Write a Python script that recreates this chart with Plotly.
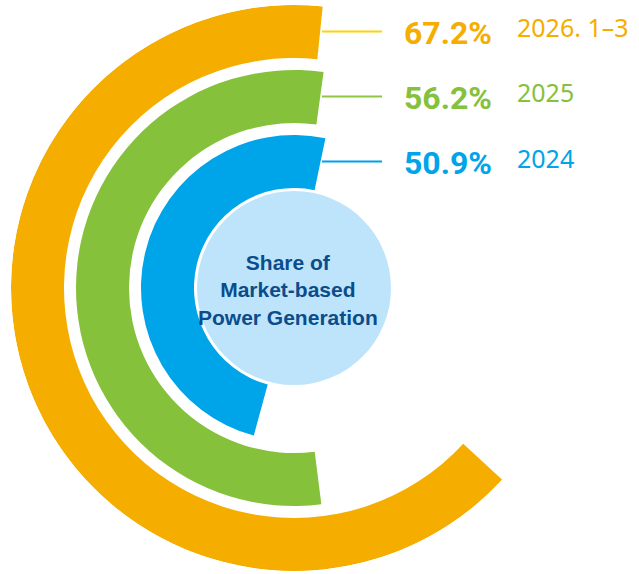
import math
import plotly.graph_objects as go

# ---- data ----
years = ["2026. 1–3", "2025", "2024"]
shares = [67.2, 56.2, 50.9]
center_title = "Share of<br>Market-based<br>Power Generation"

# ---- style ----
bar_colors = ["#F5AD00", "#86C13B", "#00A4E9"]
line_colors = ["#FFD400", "#8DC63F", "#00A0E9"]
ring_base = [230, 165, 100]   # inner radius of each ring (px)
ring_thick = 53
DEG_PER_PCT = 3.47            # angular scale of the decorative rings

W, H = 639, 574
CX, CY, R = 294, 288, 283     # polar centre / outer radius in pixels
EDGE_X = 320                  # rings start on this vertical line

fig = go.Figure()

# light blue centre disc
fig.add_trace(go.Barpolar(
    r=[97], theta=[180], width=[360], base=[0],
    marker=dict(color="#BEE4FB", line=dict(width=0)),
    hoverinfo="skip", showlegend=False,
))

for name, val, col, base in zip(years, shares, bar_colors, ring_base):
    rmid = base + ring_thick / 2
    start = -math.degrees(math.asin((EDGE_X - CX) / rmid))
    span = val * DEG_PER_PCT
    fig.add_trace(go.Barpolar(
        r=[ring_thick], base=[base], theta=[start + span / 2], width=[span],
        marker=dict(color=col, line=dict(width=0)),
        name=name, showlegend=False, hovertemplate=f"{name}: {val}%<extra></extra>",
    ))

# leader lines and labels
for name, val, col, lcol, base in zip(years, shares, bar_colors, line_colors, ring_base):
    ypx = CY - (base + ring_thick / 2)
    yp = 1 - ypx / H
    fig.add_shape(type="line", xref="paper", yref="paper",
                  x0=322 / W, x1=382 / W, y0=yp, y1=yp,
                  line=dict(color=lcol, width=2))
    fig.add_annotation(xref="paper", yref="paper", x=402 / W, y=1 - (ypx + 1) / H,
                       text=f"<b>{val}%</b>", showarrow=False,
                       xanchor="left", yanchor="middle",
                       font=dict(family="Roboto", size=32, color=col))
    fig.add_annotation(xref="paper", yref="paper", x=515 / W, y=1 - (ypx - 4) / H,
                       text=name, showarrow=False,
                       xanchor="left", yanchor="middle",
                       font=dict(family="Noto Sans", size=25, color=col))

fig.add_annotation(xref="paper", yref="paper", x=288 / W, y=1 - 290 / H,
                   text=f"<b>{center_title}</b>", showarrow=False,
                   xanchor="center", yanchor="middle",
                   font=dict(family="Liberation Sans", size=21, color="#0B4C8C"))

fig.update_layout(
    width=W, height=H,
    margin=dict(l=0, r=0, t=0, b=0),
    paper_bgcolor="white",
    plot_bgcolor="white",
    polar=dict(
        domain=dict(x=[(CX - R) / W, (CX + R) / W], y=[(H - CY - R) / H, (H - CY + R) / H]),
        bgcolor="rgba(0,0,0,0)",
        radialaxis=dict(range=[0, R], visible=False),
        angularaxis=dict(visible=False, rotation=90, direction="counterclockwise"),
        bargap=0,
    ),
)

# page body has a default 8px margin; drop it so the figure sits at 0,0
fig.write_html("out.html", config={"displayModeBar": False},
               post_script="document.body.style.margin='0';")
